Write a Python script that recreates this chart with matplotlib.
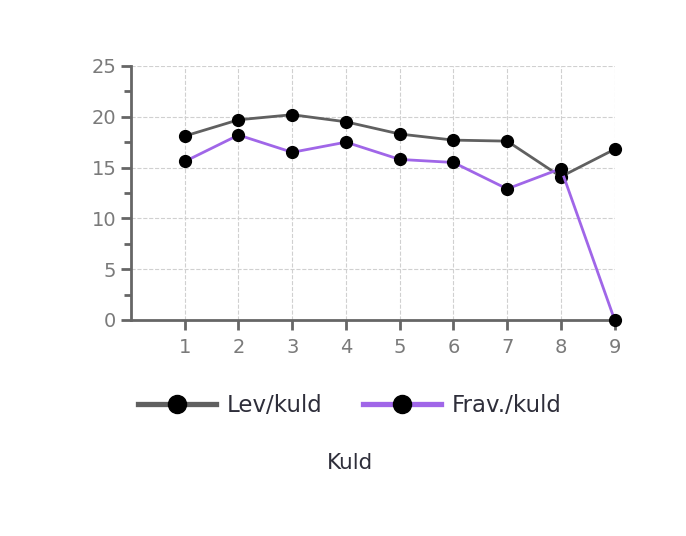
import numpy as np
import matplotlib
matplotlib.use("Agg")
import matplotlib.pyplot as plt
from matplotlib.ticker import MultipleLocator

kuld = [1, 2, 3, 4, 5, 6, 7, 8, 9]
lev_kuld = [18.1, 19.7, 20.2, 19.5, 18.3, 17.7, 17.6, 14.1, 16.8]
frav_kuld = [15.6, 18.2, 16.5, 17.5, 15.8, 15.5, 12.9, 14.9, 0.0]

fig = plt.figure(figsize=(6.86, 5.36), dpi=100)
ax = fig.add_axes([0.191, 0.403, 0.705, 0.474])

ax.plot(kuld, lev_kuld, color="#606060", lw=2, marker="o", ms=8.5,
        mfc="black", mec="black", label="Lev/kuld", zorder=3, clip_on=False)
ax.plot(kuld, frav_kuld, color="#a066e8", lw=2, marker="o", ms=8.5,
        mfc="black", mec="black", label="Frav./kuld", zorder=3, clip_on=False)

ax.set_xlim(0, 9)
ax.set_ylim(0, 25)
ax.set_xticks(kuld)
ax.yaxis.set_major_locator(MultipleLocator(5))
ax.yaxis.set_minor_locator(MultipleLocator(2.5))
ax.grid(True, color="#d0d0d0", linestyle="--", lw=0.8)
ax.set_axisbelow(True)

for s in ["top", "right"]:
    ax.spines[s].set_visible(False)
for s in ["left", "bottom"]:
    ax.spines[s].set_color("#666666")
    ax.spines[s].set_linewidth(2)

ax.tick_params(axis="both", colors="#666666", labelcolor="#7a7a7a",
               labelsize=14, width=2, length=7)
ax.tick_params(axis="y", which="minor", colors="#666666", width=2, length=5)
ax.tick_params(axis="x", pad=6)

fig.text(0.51, 0.136, "Kuld", fontsize=15.5, color="#2e2e3a",
         ha="center", va="center")

leg = fig.legend(loc="center", bbox_to_anchor=(0.51, 0.244), ncol=2,
                 frameon=False, fontsize=16.5, handlelength=3.4,
                 columnspacing=1.8, handletextpad=0.45)
for t in leg.get_texts():
    t.set_color("#2e2e3a")
for h in leg.legend_handles:
    h.set_linewidth(3.8)
    h.set_markersize(13)

fig.savefig("out.png", dpi=100)
